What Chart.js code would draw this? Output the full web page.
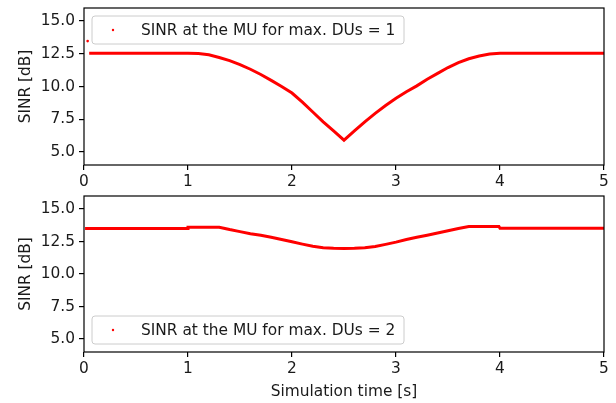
<!DOCTYPE html>
<html><head><meta charset="utf-8">
<script src="https://cdn.jsdelivr.net/npm/chart.js@4.4.1/dist/chart.umd.min.js"></script>
<style>
html,body{margin:0;padding:0;background:#fff;}
#wrap{position:relative;width:616px;height:403px;overflow:hidden;}
canvas{position:absolute;left:0;}
</style></head><body>
<div id="wrap">
<canvas id="c1" width="616" height="190" style="top:0px"></canvas>
<canvas id="c2" width="616" height="215" style="top:188px"></canvas>
</div>
<script>
// ---- data ----
const xTicks = [0, 1, 2, 3, 4, 5];
const yTicks = [5, 7.5, 10, 12.5, 15];
const legendLabels = ['SINR at the MU for max. DUs = 1', 'SINR at the MU for max. DUs = 2'];
const xTitle = 'Simulation time [s]';
const yTitle = 'SINR [dB]';

const time1 = [0.05, 0.2, 0.4, 0.6, 0.8, 1.0, 1.1, 1.2, 1.3, 1.4, 1.5, 1.6, 1.7, 1.8, 1.9, 2.0, 2.1, 2.2, 2.3, 2.4, 2.5,
               2.6, 2.7, 2.8, 2.9, 3.0, 3.1, 3.2, 3.3, 3.4, 3.5, 3.6, 3.7, 3.8, 3.9, 4.0, 4.5, 5.0];
const sinr1 = [12.55, 12.55, 12.55, 12.55, 12.55, 12.55, 12.52, 12.42, 12.22, 11.98, 11.68, 11.32, 10.92, 10.47, 10.0, 9.5, 8.8, 8.05, 7.3, 6.6, 5.9,
               6.6, 7.3, 7.95, 8.55, 9.1, 9.6, 10.05, 10.55, 11.0, 11.45, 11.82, 12.12, 12.33, 12.48, 12.55, 12.55, 12.55];
const outlierTime1 = [0.035];
const outlierSinr1 = [13.47];

const time2 = [0.01, 0.5, 1.0, 1.0, 1.3, 1.4, 1.5, 1.6, 1.7, 1.8, 1.9, 2.0, 2.1, 2.2, 2.3, 2.4, 2.5, 2.6, 2.7, 2.8, 2.9,
               3.0, 3.1, 3.2, 3.3, 3.4, 3.5, 3.6, 3.7, 3.99, 4.0, 4.5, 5.0];
const sinr2 = [13.5, 13.5, 13.5, 13.6, 13.6, 13.42, 13.26, 13.1, 12.98, 12.83, 12.66, 12.48, 12.3, 12.13, 12.02, 11.98, 11.97, 11.98, 12.02, 12.12, 12.28,
               12.45, 12.65, 12.82, 12.98, 13.15, 13.32, 13.5, 13.65, 13.65, 13.52, 13.52, 13.52];

// ---- drawing ----
const FONT = { family: '"DejaVu Sans", sans-serif', size: 15.4 };
const TEXT = '#1a1a1a';

const framePlugin = {
  id: 'frame',
  afterDatasetsDraw(chart) {
    const { ctx, chartArea: a } = chart;
    ctx.save();
    ctx.strokeStyle = '#000';
    ctx.lineWidth = 1.2;
    ctx.strokeRect(a.left, a.top, a.right - a.left, a.bottom - a.top);
    ctx.restore();
  }
};

const boxLegendPlugin = {
  id: 'boxLegend',
  afterDraw(chart) {
    const o = chart.options.plugins.boxLegend;
    if (!o) return;
    const { ctx, chartArea: a } = chart;
    const w = 312, h = 28;
    const x = a.left + 8;
    const y = o.where === 'top' ? a.top + 8 : a.bottom - 8 - h;
    ctx.save();
    const r = 3;
    ctx.beginPath();
    ctx.moveTo(x + r, y);
    ctx.arcTo(x + w, y, x + w, y + h, r);
    ctx.arcTo(x + w, y + h, x, y + h, r);
    ctx.arcTo(x, y + h, x, y, r);
    ctx.arcTo(x, y, x + w, y, r);
    ctx.closePath();
    ctx.fillStyle = 'rgba(255,255,255,0.8)';
    ctx.fill();
    ctx.strokeStyle = '#cccccc';
    ctx.lineWidth = 1;
    ctx.stroke();
    ctx.fillStyle = '#ff0000';
    ctx.beginPath();
    ctx.arc(x + 21, y + h / 2, 1.2, 0, Math.PI * 2);
    ctx.fill();
    ctx.fillStyle = TEXT;
    ctx.font = FONT.size + 'px ' + FONT.family;
    ctx.textBaseline = 'middle';
    ctx.textAlign = 'left';
    ctx.fillText(o.text, x + 49, y + h / 2 + 1);
    ctx.restore();
  }
};

function makeChart(id, times, vals, extraT, extraV, label, where, showXTitle, areaTop, areaBottom) {
  const canvas = document.getElementById(id);
  const H = canvas.height;
  const datasets = [{
    label: label,
    data: times.map((t, i) => ({ x: t, y: vals[i] })),
    showLine: true,
    borderColor: '#ff0000',
    backgroundColor: '#ff0000',
    borderWidth: 3,
    pointRadius: 0,
    tension: 0
  }];
  if (extraT) {
    datasets.push({
      label: '',
      data: extraT.map((t, i) => ({ x: t, y: extraV[i] })),
      showLine: false,
      pointRadius: 1.3,
      pointBorderWidth: 0,
      pointBackgroundColor: '#ff0000'
    });
  }
  return new Chart(canvas, {
    type: 'scatter',
    data: { datasets },
    options: {
      responsive: false,
      animation: false,
      devicePixelRatio: 1,
      layout: { padding: { top: areaTop, right: 12, left: 0, bottom: 0 } },
      plugins: {
        legend: { display: false },
        tooltip: { enabled: false },
        boxLegend: { text: label, where: where }
      },
      scales: {
        x: {
          type: 'linear',
          min: xTicks[0], max: xTicks[xTicks.length - 1],
          afterBuildTicks: s => { s.ticks = xTicks.map(v => ({ value: v })); },
          afterFit: s => { s.height = H - areaBottom; s.paddingLeft = 0; s.paddingRight = 0; },
          border: { display: false },
          grid: { display: true, drawOnChartArea: false, drawTicks: true, tickLength: 5, color: '#000', lineWidth: 1.2 },
          ticks: { color: TEXT, font: FONT, padding: 3, maxRotation: 0, callback: v => String(v) },
          title: { display: showXTitle, text: xTitle, color: TEXT, font: FONT, padding: { top: 0, bottom: 2 } }
        },
        y: {
          type: 'linear',
          min: 4, max: 16,
          afterBuildTicks: s => { s.ticks = yTicks.map(v => ({ value: v })); },
          afterFit: s => { s.width = 84; s.paddingTop = 0; s.paddingBottom = 0; },
          border: { display: false },
          grid: { display: true, drawOnChartArea: false, drawTicks: true, tickLength: 5, color: '#000', lineWidth: 1.2 },
          ticks: { color: TEXT, font: FONT, padding: 4, callback: v => Number(v).toFixed(1) },
          title: { display: true, text: yTitle, color: TEXT, font: FONT, padding: { top: 17, bottom: 0 } }
        }
      }
    },
    plugins: [framePlugin, boxLegendPlugin]
  });
}

makeChart('c1', time1, sinr1, outlierTime1, outlierSinr1, legendLabels[0], 'top', false, 8, 165);
makeChart('c2', time2, sinr2, null, null, legendLabels[1], 'bottom', true, 8, 164);
</script>
</body></html>
